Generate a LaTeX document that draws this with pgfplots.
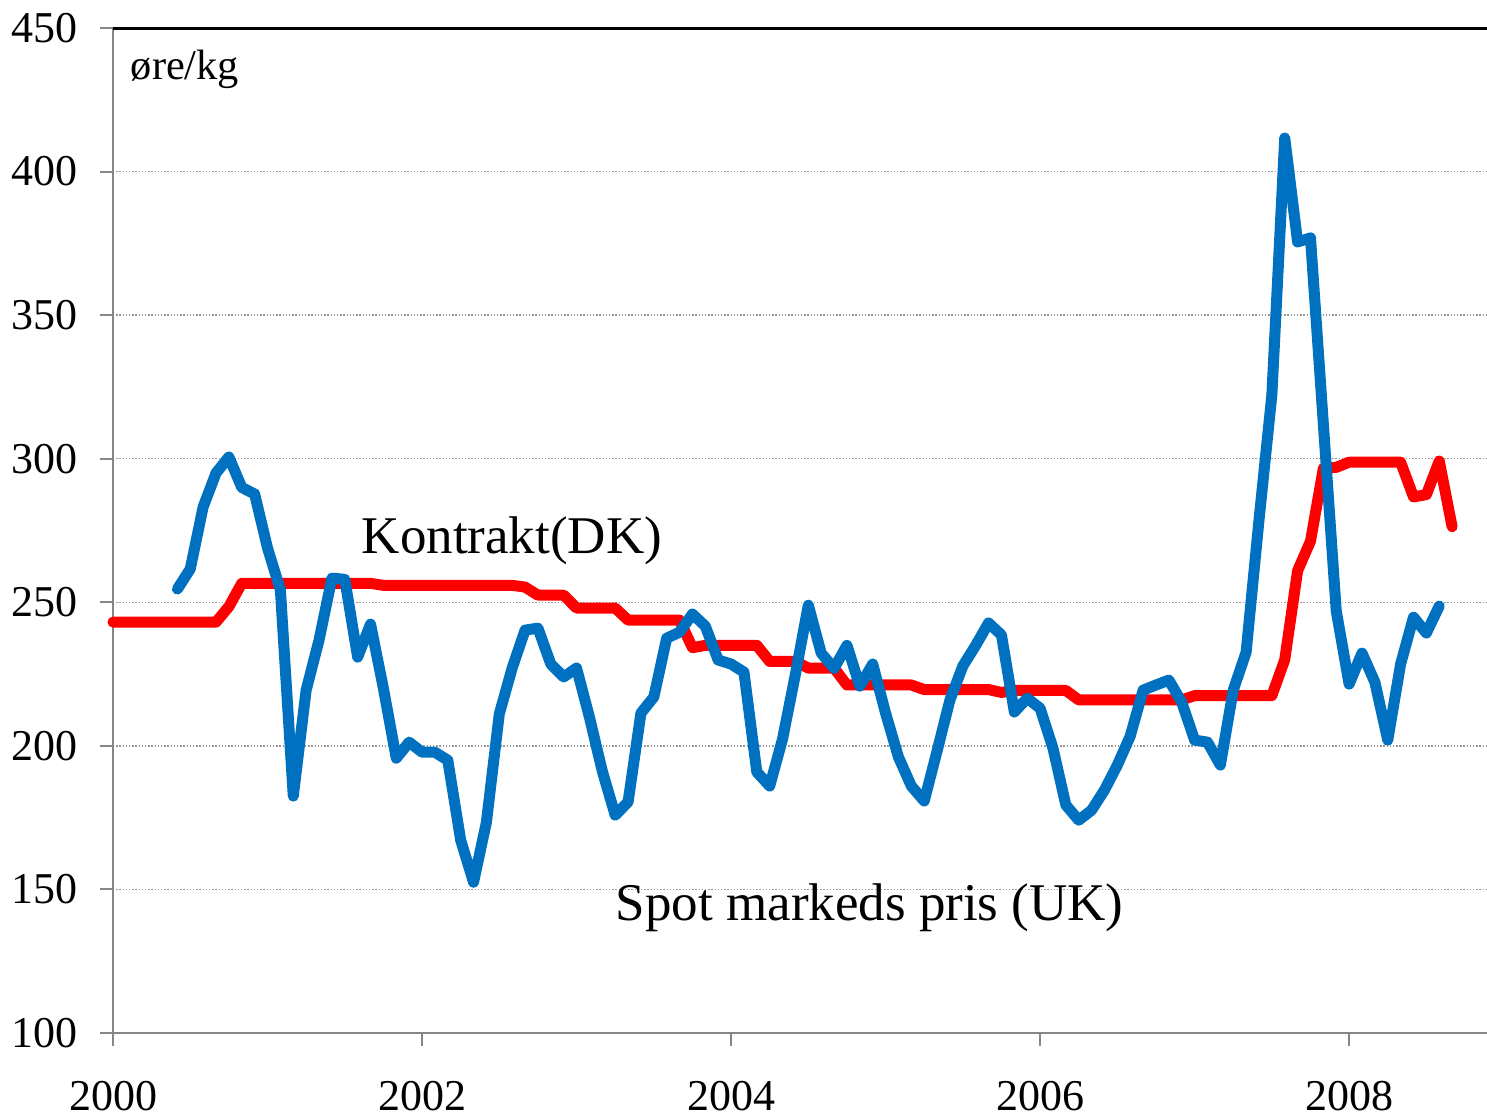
\documentclass[border=0pt]{standalone}
\usepackage{fontspec}
\setmainfont{Liberation Serif}
\usepackage{pgfplots}
\pgfplotsset{compat=1.18}
\usepackage{pgfplotstable}
\definecolor{spotblue}{RGB}{0,112,192}
\definecolor{axgray}{RGB}{134,134,134}

\pgfplotstableread{
m v
5 254.6
6 261.6
7 283.2
8 295
9 300.6
10 290
11 287.7
12 268.9
13 254.3
14 182.5
15 219.4
16 236.8
17 258.4
18 258
19 230.9
20 242.4
21 220
22 195.7
23 201.3
24 197.8
25 197.8
26 195
27 167.2
28 152.5
29 173.4
30 211.1
31 227.1
32 240.3
33 241
34 228.5
35 224
36 227.1
37 210
38 191.2
39 175.9
40 180.4
41 211.4
42 217
43 237.5
44 239.6
45 245.9
46 241.7
47 229.9
48 228.5
49 225.7
50 190.9
51 186
52 202.4
53 225
54 249
55 232.3
56 227
57 235
58 220.8
59 228.5
60 211.4
61 196.1
62 186
63 180.8
64 198.2
65 216
66 227.8
67 235
68 242.8
69 238.6
70 211.8
71 216.6
72 213.1
73 199.2
74 179.4
75 174.1
76 177.6
77 184.6
78 193.3
79 203.4
80 219.4
81 221.2
82 222.9
83 215.2
84 202
85 201.3
86 193.3
87 219.4
88 232.6
89 278.6
90 322.2
91 411.7
92 375.5
93 376.9
94 312
95 247
96 221.5
97 232.3
98 222.2
99 202
100 228.5
101 244.8
102 239.3
103 248.7
}\spot

\pgfplotstableread{
m v
0 243.1
8 243.1
9 248.5
10 256.6
20 256.6
21 255.9
31 255.9
32 255.3
33 252.5
35 252.5
36 248
39 248
40 243.8
44 243.8
45 234.2
46 235
50 235
51 229.4
53 229.4
54 227.1
56 227.1
57 221.2
62 221.2
63 219.6
68 219.6
69 218.6
70 219.3
74 219.3
75 216
83 216
84 217.5
90 217.5
91 230
92 261
93 271.3
94 296.7
95 297
96 298.8
100 298.8
101 286.7
102 287.5
103 299.2
104 276.3
}\kontrakt

\begin{document}
\begin{tikzpicture}
\begin{axis}[
  scale only axis,
  width=343.5pt, height=251.25pt,
  xmin=0, xmax=106.71,
  ymin=100, ymax=450,
  axis x line*=bottom,
  axis y line*=left,
  axis line style={axgray, line width=0.5pt, -},
  xtick={0,24,48,72,96},
  xticklabels={2000,2002,2004,2006,2008},
  ytick={100,150,...,450},
  tick align=outside,
  major tick length=3.25pt,
  tick style={axgray, line width=0.5pt},
  ymajorgrids,
  major grid style={gray!80, line width=0.35pt, dash pattern=on 0.35pt off 0.45pt},
  /pgf/number format/assume math mode=true,
  tick label style={font=\fontsize{11}{12}\selectfont, inner sep=0pt},
  yticklabel style={xshift=-5.5pt},
  xticklabel style={yshift=-8.5pt},
  clip=false,
]
\addplot[red, line width=2.75pt, line join=round, line cap=round] table[x=m, y=v] {\kontrakt};
\addplot[spotblue, line width=2.75pt, line join=round, line cap=round] table[x=m, y=v] {\spot};
\draw[black, line width=0.75pt] (rel axis cs:0,1) -- (rel axis cs:1,1);
\node[anchor=base west, inner sep=0pt, font=\fontsize{10.6}{12}\selectfont] at (axis cs:1.32,431.9) {øre/kg};
\node[anchor=base west, inner sep=0pt, font=\fontsize{13.25}{15}\selectfont] at (axis cs:19.26,267.1) {Kontrakt(DK)};
\node[anchor=base west, inner sep=0pt, font=\fontsize{13.25}{15}\selectfont] at (axis cs:38.99,139.3) {Spot markeds pris (UK)};
\coordinate (bl) at (rel axis cs:0,0);
\coordinate (tr) at (rel axis cs:1,1);
\end{axis}
\pgfresetboundingbox
\path[use as bounding box] ([xshift=-28.25pt,yshift=-20.75pt]bl) rectangle ([yshift=7pt]tr);
\end{tikzpicture}
\end{document}
